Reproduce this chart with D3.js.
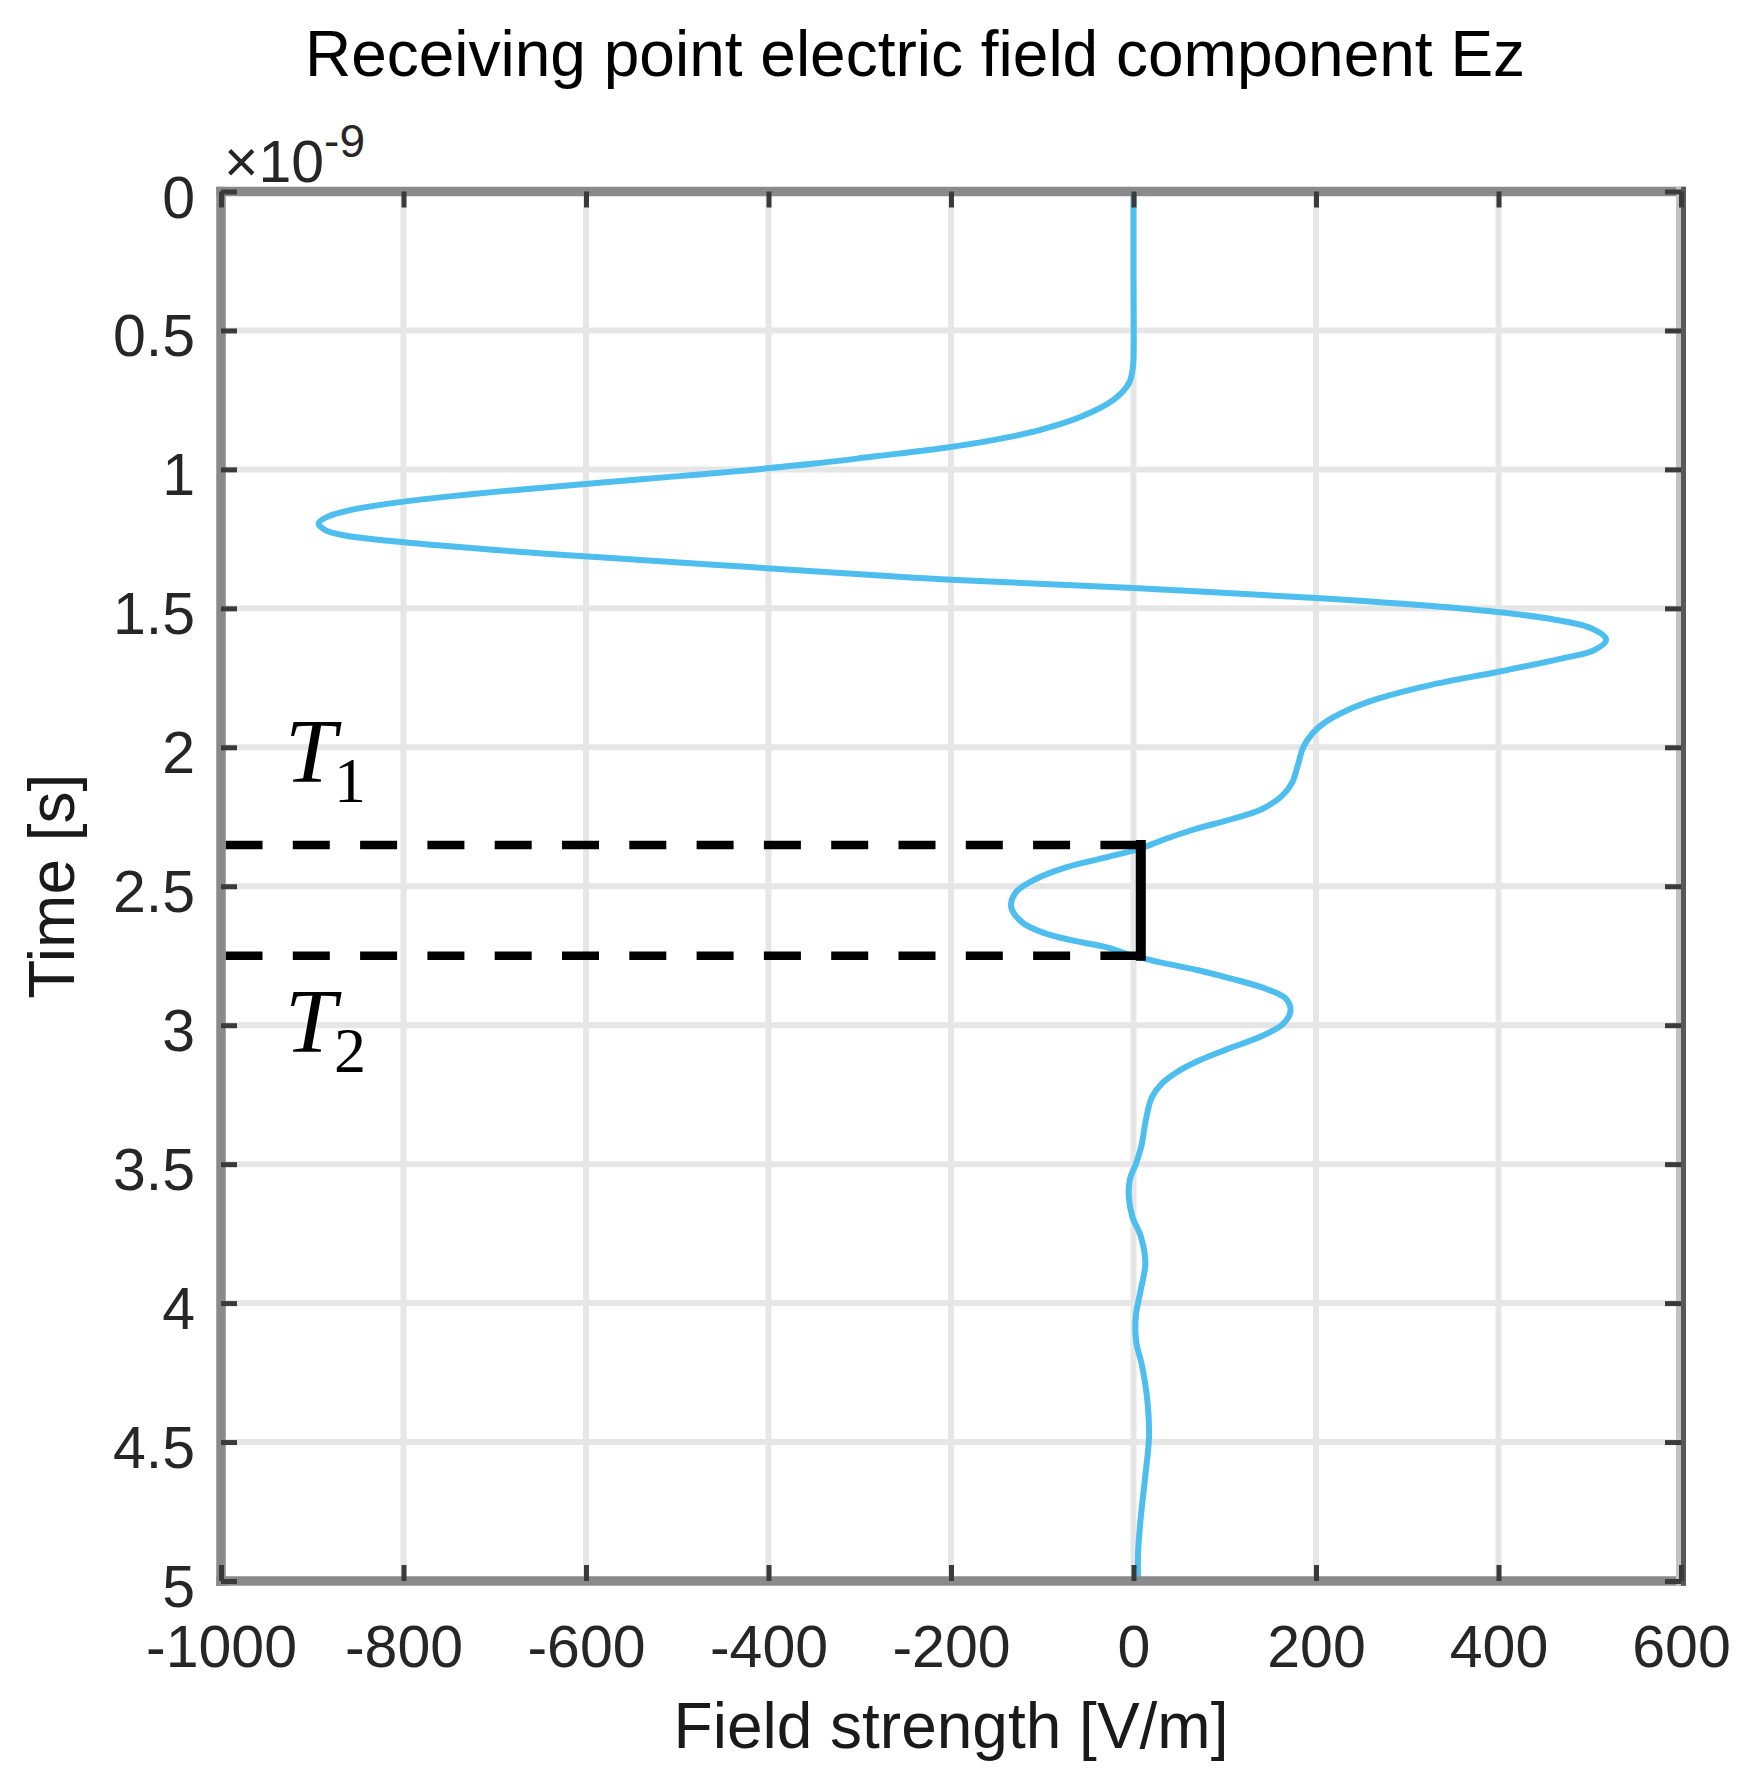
<!DOCTYPE html>
<html>
<head>
<meta charset="utf-8">
<script src="https://cdn.jsdelivr.net/npm/d3@7/dist/d3.min.js"></script>
<style>
  html, body { margin: 0; padding: 0; background: #fff; }
  svg text { font-family: "Liberation Sans", Arial, sans-serif; }
</style>
</head>
<body>
<div id="chart"></div>
<script>
// Ez at the receiving point, time in ns (axis shows x10^-9 s)
const timeNs = [0, 0.3, 0.6, 0.64, 0.69, 0.75, 0.81, 0.857, 0.893, 0.923, 0.953, 0.98,
  1.008, 1.026, 1.047, 1.065, 1.08, 1.098, 1.116, 1.134, 1.152, 1.17, 1.194, 1.218,
  1.236, 1.254, 1.272, 1.29, 1.308, 1.326, 1.344, 1.362, 1.397, 1.427, 1.463, 1.5,
  1.535, 1.571, 1.613, 1.65, 1.68, 1.728, 1.776, 1.825, 1.87, 1.91, 1.95, 2.0, 2.066,
  2.126, 2.174, 2.222, 2.258, 2.294, 2.33, 2.366, 2.396, 2.432, 2.474, 2.522, 2.576,
  2.63, 2.666, 2.695, 2.719, 2.75, 2.773, 2.803, 2.833, 2.869, 2.905, 2.95, 2.995,
  3.04, 3.087, 3.13, 3.17, 3.21, 3.26, 3.35, 3.43, 3.5, 3.555, 3.623, 3.692,
  3.76, 3.856, 3.952, 4.048, 4.14, 4.22, 4.345, 4.48, 4.62, 4.77, 4.9, 5.0];
const fieldVm = [0, 0, 0, -1, -5, -22, -57, -101, -151, -208, -283, -352,
  -440, -505, -582, -645, -697, -752, -800, -838, -865, -883, -893, -886,
  -867, -825, -766, -699, -624, -540, -456, -372, -200, 0, 200, 357,
  451, 501, 518, 505, 470, 400, 325, 268, 232, 210, 196, 186, 180,
  174, 163, 141, 108, 68, 35, 6, -30, -74, -107, -129, -134,
  -122, -100, -67, -30, -1, 28, 72, 108, 145, 167, 172, 164,
  140, 102, 70, 47, 31, 20, 13, 9, 2.5, -4, -5, -1,
  8, 13, 8, 2.5, 3, 9, 15, 17, 13, 8, 5, 5];

const xTicks = [-1000, -800, -600, -400, -200, 0, 200, 400, 600];
const yTicks = [0, 0.5, 1, 1.5, 2, 2.5, 3, 3.5, 4, 4.5, 5];

// T1 / T2 markers
const markerTimes = [2.352, 2.75];
const markerField = 8;
const markerNames = ["1", "2"];
const labelTimes = [2.125, 3.096];
const labelField = -930;

const W = 1752, H = 1788;
const plot = {left: 221, right: 1681, top: 191.5, bottom: 1581};

const svg = d3.select("#chart").append("svg")
    .attr("width", W)
    .attr("height", H);

const x = d3.scaleLinear().domain([-1000, 600]).range([plot.left, plot.right]);
const y = d3.scaleLinear().domain([0, 5]).range([plot.top, plot.bottom]);

// grid
const grid = svg.append("g").attr("stroke", "#e6e6e6").attr("stroke-width", 6);
grid.selectAll(".gx").data(xTicks.slice(1, -1)).enter().append("line")
    .attr("x1", d => x(d)).attr("x2", d => x(d))
    .attr("y1", plot.top).attr("y2", plot.bottom);
grid.selectAll(".gy").data(yTicks.slice(1, -1)).enter().append("line")
    .attr("y1", d => y(d)).attr("y2", d => y(d))
    .attr("x1", plot.left).attr("x2", plot.right);

// curve
const pts = timeNs.map((t, i) => ({t: t, v: fieldVm[i]}));
const line = d3.line()
    .x(d => x(d.v))
    .y(d => y(d.t))
    .curve(d3.curveCatmullRom.alpha(0.5));

svg.append("path")
    .datum(pts)
    .attr("d", line)
    .attr("fill", "none")
    .attr("stroke", "#4DBEEE")
    .attr("stroke-width", 6)
    .attr("stroke-linejoin", "round");

// dashed markers + bracket
svg.selectAll(".mark").data(markerTimes).enter().append("line")
    .attr("x1", x(-1000)).attr("x2", x(markerField))
    .attr("y1", d => y(d)).attr("y2", d => y(d))
    .attr("stroke", "#000")
    .attr("stroke-width", 8.5)
    .attr("stroke-dasharray", "37,30.3")
    .attr("stroke-dashoffset", -4.5);

svg.append("line")
    .attr("x1", x(markerField)).attr("x2", x(markerField))
    .attr("y1", y(markerTimes[0])).attr("y2", y(markerTimes[1]))
    .attr("stroke", "#000")
    .attr("stroke-width", 10)
    .attr("stroke-linecap", "square");

const tl = svg.selectAll(".tlab").data(markerNames).enter().append("text")
    .attr("x", x(labelField))
    .attr("y", (d, i) => y(labelTimes[i]))
    .style("font-family", "'Liberation Serif', 'DejaVu Serif', serif")
    .attr("fill", "#000");
tl.append("tspan")
    .attr("font-size", 92)
    .attr("font-style", "italic")
    .text("T");
tl.append("tspan")
    .attr("font-size", 64)
    .attr("dx", -2)
    .attr("dy", 20)
    .text(d => d);

// frame
const frame = svg.append("g").attr("stroke", "#8a8a8a").attr("stroke-width", 9.5);
frame.append("line").attr("x1", plot.left).attr("x2", plot.left)
    .attr("y1", plot.top - 4.75).attr("y2", plot.bottom + 4.75);
frame.append("line").attr("x1", plot.left - 4.75).attr("x2", plot.right + 4.75)
    .attr("y1", plot.top).attr("y2", plot.top);
frame.append("line").attr("x1", plot.left - 4.75).attr("x2", plot.right + 4.75)
    .attr("y1", plot.bottom).attr("y2", plot.bottom);
frame.append("line").attr("x1", plot.right - 2.5).attr("x2", plot.right - 2.5)
    .attr("y1", plot.top - 4.75).attr("y2", plot.bottom + 4.75)
    .attr("stroke", "#c2c2c2").attr("stroke-width", 5);
frame.append("line").attr("x1", plot.right + 2.5).attr("x2", plot.right + 2.5)
    .attr("y1", plot.top - 4.75).attr("y2", plot.bottom + 4.75)
    .attr("stroke", "#585858").attr("stroke-width", 5);

// axes (ticks inside, MATLAB style)
const tickLen = -16;
function styleAxis(g) {
    g.select(".domain").remove();
    g.selectAll(".tick line").attr("stroke", "#3a3a3a").attr("stroke-width", 5);
    g.selectAll(".tick text")
        .attr("fill", "#262626")
        .style("font-size", "59px");
}

const gBottom = svg.append("g")
    .attr("transform", `translate(0,${plot.bottom})`)
    .call(d3.axisBottom(x).tickValues(xTicks).tickSizeInner(tickLen).tickSizeOuter(0)
        .tickFormat(d => String(d)))
    .call(styleAxis);
gBottom.selectAll(".tick text").attr("y", 86).attr("dy", 0);

svg.append("g")
    .attr("transform", `translate(0,${plot.top})`)
    .call(d3.axisTop(x).tickValues(xTicks).tickSizeInner(tickLen).tickSizeOuter(0)
        .tickFormat(""))
    .call(styleAxis);

const gLeft = svg.append("g")
    .attr("transform", `translate(${plot.left},0)`)
    .call(d3.axisLeft(y).tickValues(yTicks).tickSizeInner(tickLen).tickSizeOuter(0)
        .tickFormat(d => String(d)))
    .call(styleAxis);
gLeft.selectAll(".tick text").attr("x", -26).attr("dy", 25.5);

svg.append("g")
    .attr("transform", `translate(${plot.right},0)`)
    .call(d3.axisRight(y).tickValues(yTicks).tickSizeInner(tickLen).tickSizeOuter(0)
        .tickFormat(""))
    .call(styleAxis);

// exponent
const ex = svg.append("text")
    .attr("x", plot.left + 3)
    .attr("y", 182)
    .attr("fill", "#262626")
    .style("font-size", "59px");
ex.append("tspan").text("\u00d710");
ex.append("tspan").attr("dy", -25).style("font-size", "46px").text("-9");

// title & labels
svg.append("text")
    .attr("x", 915)
    .attr("y", 76)
    .attr("text-anchor", "middle")
    .attr("fill", "#000")
    .style("font-size", "64px")
    .text("Receiving point electric field component Ez");

svg.append("text")
    .attr("x", (plot.left + plot.right) / 2)
    .attr("y", 1748)
    .attr("text-anchor", "middle")
    .attr("fill", "#1a1a1a")
    .style("font-size", "64px")
    .text("Field strength [V/m]");

svg.append("text")
    .attr("transform", `translate(74,${(plot.top + plot.bottom) / 2}) rotate(-90)`)
    .attr("text-anchor", "middle")
    .attr("fill", "#1a1a1a")
    .style("font-size", "64px")
    .text("Time [s]");
</script>
</body>
</html>
